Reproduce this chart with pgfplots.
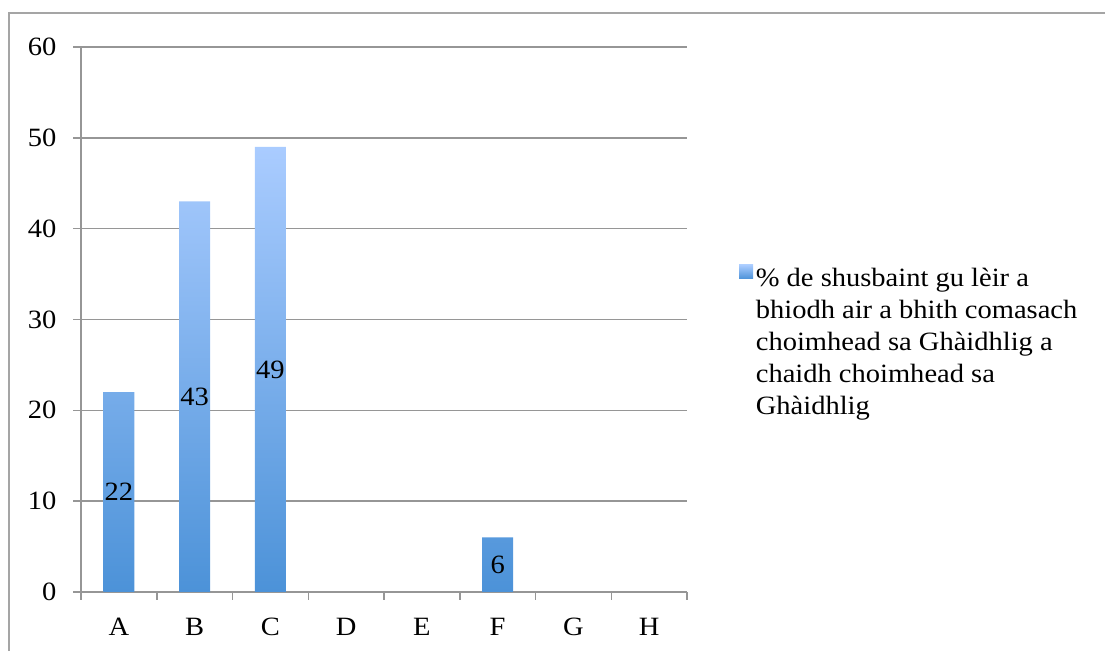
\documentclass[border=0pt]{standalone}
\usepackage{pgfplots}
\pgfplotsset{compat=1.18}
\usepackage{fontspec}
\setmainfont{Liberation Serif}[FakeStretch=1.08]
\definecolor{gridgray}{RGB}{150,150,150}
\definecolor{framegray}{RGB}{165,165,165}
\definecolor{bartop}{RGB}{170,204,255}
\definecolor{barbot}{RGB}{76,146,216}
\begin{document}
\begin{tikzpicture}[x=0.75pt,y=0.75pt]
\useasboundingbox (0,0) rectangle (1105,651);
% outer chart frame
\draw[framegray, line width=1.1pt] (9,0) -- (9,638) -- (1105,638);
\begin{axis}[
  at={(107,65)}, anchor=south west,
  scale only axis, width=454.5pt, height=408.75pt,
  xmin=0.5, xmax=8.5, ymin=0, ymax=60,
  xtick={1,...,8}, xticklabels={A,B,C,D,E,F,G,H},
  minor xtick={0.5,1.5,...,8.5},
  ytick={0,10,...,60},
  axis x line*=bottom, axis y line*=left,
  axis line style={gridgray, line width=1.1pt, -},
  ymajorgrids, grid style={gridgray, line width=1.1pt},
  tick align=outside,
  major tick length=6pt, minor tick length=6pt,
  major x tick style={draw=none},
  minor x tick style={gridgray, line width=1.1pt},
  y tick style={gridgray, line width=1.1pt},
  tick label style={font=\fontsize{19.8}{22}\selectfont, text=black},
  /pgf/number format/assume math mode=true,
  yticklabel style={xshift=-9pt},
  xticklabel style={yshift=-10pt},
  legend style={draw=none, fill=none, at={(1.079,0.6055)}, anchor=north west,
    font=\fontsize{19.8}{24}\selectfont, cells={anchor=base west, align=left}},
  legend cell align=left,
]
\addplot[ybar, bar width=23.25pt, draw=none, top color=bartop, bottom color=barbot,
  nodes near coords,
  visualization depends on={rawy \as \rawy},
  every node near coord/.append style={anchor=center, yshift=-0.5*\rawy*6.8125pt,
    font=\fontsize{19.8}{22}\selectfont, text=black},
  legend image code/.code={\shade[top color=bartop, bottom color=barbot] (-1.5pt,47.25pt) rectangle (9pt,57.75pt);}
] coordinates {(1,22) (2,43) (3,49) (6,6)};
\addlegendentry{\% de shusbaint gu lèir a\\bhiodh air a bhith comasach\\choimhead sa Ghàidhlig a\\chaidh choimhead sa\\Ghàidhlig}
\end{axis}
\end{tikzpicture}
\end{document}
